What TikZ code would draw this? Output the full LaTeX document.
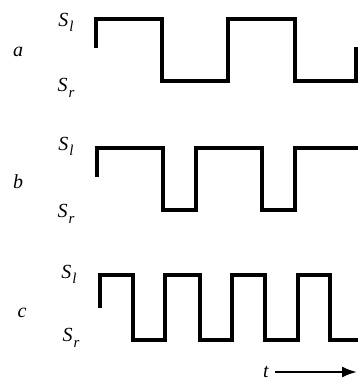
\documentclass[tikz,border=0pt]{standalone}
\usepackage{fontspec}
\setmainfont{Liberation Serif}
\usetikzlibrary{arrows.meta,positioning}

\tikzset{
  wave/.style={line width=3.2pt, line join=miter},
  lbl/.style={font=\fontsize{20}{22}\selectfont\itshape, inner sep=0pt}
}
\newcommand{\Sl}{S\kern1pt\raisebox{-5pt}{\fontsize{15}{15}\selectfont l}}
\newcommand{\Sr}{S\kern1pt\raisebox{-6pt}{\fontsize{15}{15}\selectfont r}}

\begin{document}
\begin{tikzpicture}[x=1pt,y=-1pt]
\useasboundingbox (0,0) rectangle (357,381);

% a
\node[lbl] (la) at (18,52) {a};
\node[lbl] (la-l) at (66,22) {\Sl};
\node[lbl] (la-r) at (66,88) {\Sr};
\draw[wave] (96,48) -- (96,19) -- (162,19) -- (162,81) -- (228,81) -- (228,19)
  -- (295,19) -- (295,81) -- (356,81) -- (356,47);

% b
\node[lbl] (lb) at (18,182) {b};
\node[lbl] (lb-l) at (66,146) {\Sl};
\node[lbl] (lb-r) at (66,214) {\Sr};
\draw[wave] (97,177) -- (97,148) -- (163,148) -- (163,210) -- (196,210) -- (196,148)
  -- (262,148) -- (262,210) -- (295,210) -- (295,148) -- (358,148);

% c
\node[lbl] (lc) at (22,313) {c};
\node[lbl] (lc-l) at (69,274) {\Sl};
\node[lbl] (lc-r) at (71,338) {\Sr};
\draw[wave] (100,308) -- (100,275) -- (133,275) -- (133,340) -- (165,340) -- (165,275)
  -- (200,275) -- (200,340) -- (232,340) -- (232,275) -- (265,275) -- (265,340)
  -- (298,340) -- (298,275) -- (330,275) -- (330,340) -- (358,340);

% time axis
\node[lbl] (t) at (266,372) {t};
\coordinate (tend) at (357,372);
\draw[line width=2.2pt, -{Latex[length=15pt,width=11pt]}] ([xshift=6pt]t.east) -- (tend);
\end{tikzpicture}
\end{document}
